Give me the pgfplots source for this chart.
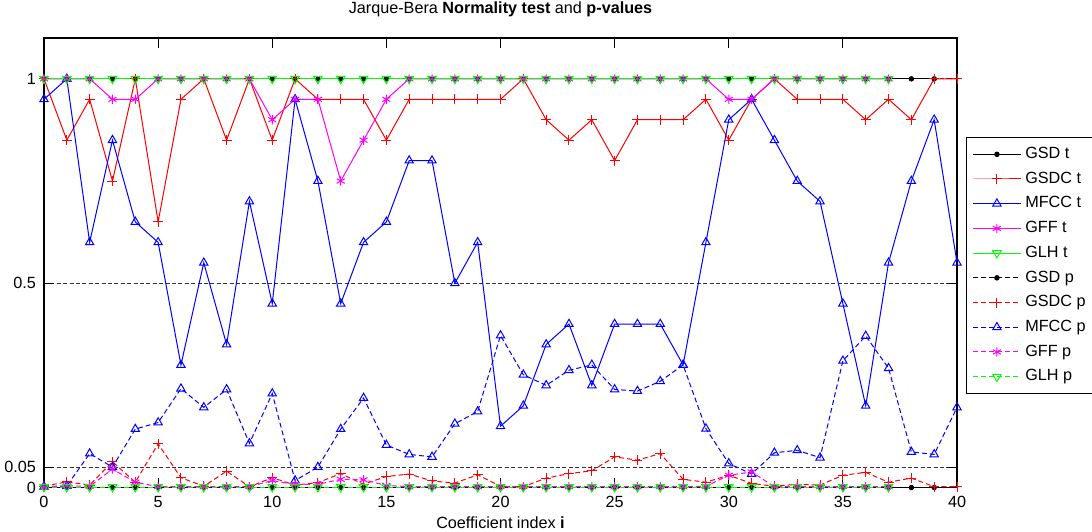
\documentclass[border=0pt]{standalone}
\usepackage{fontspec}
\setmainfont{Liberation Sans}
\usepackage{pgfplots}
\pgfplotsset{compat=1.18}
\definecolor{mred}{rgb}{1,0,0}
\definecolor{mblue}{rgb}{0,0,1}
\definecolor{mmag}{rgb}{1,0,1}
\definecolor{mgreen}{rgb}{0,1,0}
\begin{document}
\begin{tikzpicture}
\begin{axis}[
  scale only axis,
  width=456.5pt, height=224.75pt,
  xmin=0, xmax=40, ymin=0, ymax=1.1,
  xtick={0,5,...,40},
  ytick={0,0.05,0.5,1},
  yticklabels={0,0.05,0.5,1},
  tick align=inside,
  major tick length=5pt,
  tick style={black, line width=0.5pt},
  axis line style={black, line width=0.6pt},
  ymajorgrids,
  grid style={black!80, line width=0.45pt, dash pattern=on 2pt off 1.2pt},
  font=\fontsize{8.1}{10}\selectfont,
  /pgf/number format/assume math mode=true,
  title={Jarque-Bera \textbf{Normality test} and \textbf{p-values}},
  title style={at={(0.5,1)}, anchor=base, yshift=6pt, font=\fontsize{8.1}{10}\selectfont},
  xlabel={Coefficient index \textbf{i}},
  xlabel style={at={(0.5,0)}, anchor=base, yshift=-20.5pt},
  xticklabel style={anchor=base, yshift=-9.75pt},
  yticklabel style={anchor=east, xshift=-0.5pt},
  legend cell align=left,
  legend style={at={(1.00986,0.7806)}, anchor=north west, draw=black, line width=0.5pt,
    font=\fontsize{8.1}{10}\selectfont, row sep=1.2pt, inner xsep=3pt, inner ysep=3pt},
  legend image code/.code={\draw[mark repeat=2,mark phase=2] plot coordinates {(0cm,0cm) (0.42cm,0cm) (0.84cm,0cm)};},
  every axis plot/.append style={line width=0.5pt},
]
% ---- t (solid)
\addplot[black, mark=*, mark size=1.1pt] coordinates {
(0,1)(1,1)(2,1)(3,1)(4,1)(5,1)(6,1)(7,1)(8,1)(9,1)(10,1)(11,1)(12,1)(13,1)(14,1)(15,1)(16,1)(17,1)(18,1)(19,1)
(20,1)(21,1)(22,1)(23,1)(24,1)(25,1)(26,1)(27,1)(28,1)(29,1)(30,1)(31,1)(32,1)(33,1)(34,1)(35,1)(36,1)(37,1)(38,1)(39,1)};
\addlegendentry{GSD t}
\addplot[mred, mark=+, mark size=2.5pt] coordinates {
(0,1)(1,0.85)(2,0.95)(3,0.75)(4,1)(5,0.65)(6,0.95)(7,1)(8,0.85)(9,1)(10,0.85)(11,1)(12,0.95)(13,0.95)(14,0.95)(15,0.85)
(16,0.95)(17,0.95)(18,0.95)(19,0.95)(20,0.95)(21,1)(22,0.9)(23,0.85)(24,0.9)(25,0.8)(26,0.9)(27,0.9)(28,0.9)(29,0.95)
(30,0.85)(31,0.95)(32,1)(33,0.95)(34,0.95)(35,0.95)(36,0.9)(37,0.95)(38,0.9)(39,1)(40,1)};
\addlegendentry{GSDC t}
\addplot[mblue, mark=triangle, mark size=2.4pt] coordinates {
(0,0.95)(1,1)(2,0.6)(3,0.85)(4,0.65)(5,0.6)(6,0.3)(7,0.55)(8,0.35)(9,0.7)(10,0.45)(11,0.95)(12,0.75)(13,0.45)(14,0.6)
(15,0.65)(16,0.8)(17,0.8)(18,0.5)(19,0.6)(20,0.15)(21,0.2)(22,0.35)(23,0.4)(24,0.25)(25,0.4)(26,0.4)(27,0.4)(28,0.3)
(29,0.6)(30,0.9)(31,0.95)(32,0.85)(33,0.75)(34,0.7)(35,0.45)(36,0.2)(37,0.55)(38,0.75)(39,0.9)(40,0.55)};
\addlegendentry{MFCC t}
\addplot[mmag, mark=asterisk, mark size=2.3pt] coordinates {
(0,1)(1,1)(2,1)(3,0.95)(4,0.95)(5,1)(6,1)(7,1)(8,1)(9,1)(10,0.9)(11,0.95)(12,0.95)(13,0.75)(14,0.85)(15,0.95)
(16,1)(17,1)(18,1)(19,1)(20,1)(21,1)(22,1)(23,1)(24,1)(25,1)(26,1)(27,1)(28,1)(29,1)(30,0.95)(31,0.95)
(32,1)(33,1)(34,1)(35,1)(36,1)(37,1)};
\addlegendentry{GFF t}
\addplot[mgreen, mark=triangle, mark size=2.4pt, mark options={rotate=180}] coordinates {
(0,1)(1,1)(2,1)(3,1)(4,1)(5,1)(6,1)(7,1)(8,1)(9,1)(10,1)(11,1)(12,1)(13,1)(14,1)(15,1)(16,1)(17,1)(18,1)(19,1)
(20,1)(21,1)(22,1)(23,1)(24,1)(25,1)(26,1)(27,1)(28,1)(29,1)(30,1)(31,1)(32,1)(33,1)(34,1)(35,1)(36,1)(37,1)};
\addlegendentry{GLH t}
% ---- p (dashed)
\addplot[black, dash pattern=on 2.5pt off 1.5pt, mark=*, mark size=1.1pt, mark options={solid}] coordinates {
(0,0)(1,0)(2,0)(3,0)(4,0)(5,0)(6,0)(7,0)(8,0)(9,0)(10,0)(11,0)(12,0)(13,0)(14,0)(15,0)(16,0)(17,0)(18,0)(19,0)
(20,0)(21,0)(22,0)(23,0)(24,0)(25,0)(26,0)(27,0)(28,0)(29,0)(30,0)(31,0)(32,0)(33,0)(34,0)(35,0)(36,0)(37,0)(38,0)(39,0)};
\addlegendentry{GSD p}
\addplot[mred, dash pattern=on 2.5pt off 1.5pt, mark=+, mark size=2.5pt, mark options={solid}] coordinates {
(0,0.003)(1,0.014)(2,0.006)(3,0.063)(4,0.013)(5,0.107)(6,0.024)(7,0.003)(8,0.04)(9,0.002)(10,0.024)(11,0.006)
(12,0.012)(13,0.034)(14,0.008)(15,0.027)(16,0.033)(17,0.016)(18,0.011)(19,0.031)(20,0.003)(21,0.002)(22,0.023)
(23,0.034)(24,0.041)(25,0.075)(26,0.067)(27,0.083)(28,0.02)(29,0.013)(30,0.03)(31,0.01)(32,0.003)(33,0.008)
(34,0.006)(35,0.03)(36,0.037)(37,0.013)(38,0.023)(39,0.002)(40,0.002)};
\addlegendentry{GSDC p}
\addplot[mblue, dash pattern=on 2.5pt off 1.5pt, mark=triangle, mark size=2.4pt, mark options={solid}] coordinates {
(0,0.002)(1,0.004)(2,0.083)(3,0.05)(4,0.143)(5,0.159)(6,0.242)(7,0.196)(8,0.24)(9,0.108)(10,0.23)(11,0.017)
(12,0.05)(13,0.143)(14,0.219)(15,0.104)(16,0.081)(17,0.075)(18,0.156)(19,0.186)(20,0.372)(21,0.276)(22,0.25)
(23,0.287)(24,0.3)(25,0.24)(26,0.236)(27,0.26)(28,0.3)(29,0.144)(30,0.059)(31,0.033)(32,0.085)(33,0.091)
(34,0.073)(35,0.31)(36,0.371)(37,0.292)(38,0.087)(39,0.081)(40,0.196)};
\addlegendentry{MFCC p}
\addplot[mmag, dash pattern=on 2.5pt off 1.5pt, mark=asterisk, mark size=2.3pt, mark options={solid}] coordinates {
(0,0.001)(1,0.004)(2,0.003)(3,0.045)(4,0.013)(5,0.002)(6,0.002)(7,0.002)(8,0.002)(9,0.002)(10,0.017)(11,0.007)
(12,0.008)(13,0.02)(14,0.019)(15,0.005)(16,0.002)(17,0.002)(18,0.002)(19,0.002)(20,0.002)(21,0.002)(22,0.002)
(23,0.002)(24,0.002)(25,0.002)(26,0.002)(27,0.002)(28,0.002)(29,0.003)(30,0.03)(31,0.038)(32,0.002)(33,0.002)
(34,0.002)(35,0.002)(36,0.002)(37,0.002)};
\addlegendentry{GFF p}
\addplot[mgreen, dash pattern=on 2.5pt off 1.5pt, mark=triangle, mark size=2.4pt, mark options={solid, rotate=180}] coordinates {
(0,0.001)(1,0.001)(2,0.001)(3,0.001)(4,0.001)(5,0.001)(6,0.001)(7,0.001)(8,0.001)(9,0.001)(10,0.001)(11,0.001)
(12,0.001)(13,0.001)(14,0.001)(15,0.001)(16,0.001)(17,0.001)(18,0.001)(19,0.001)(20,0.001)(21,0.001)(22,0.001)
(23,0.001)(24,0.001)(25,0.001)(26,0.001)(27,0.001)(28,0.001)(29,0.001)(30,0.001)(31,0.001)(32,0.001)(33,0.001)
(34,0.001)(35,0.001)(36,0.001)(37,0.001)};
\addlegendentry{GLH p}
\end{axis}
\pgfresetboundingbox
\path[use as bounding box] ([xshift=-22pt,yshift=-21.75pt]current axis.south west) rectangle ([xshift=67.5pt,yshift=19pt]current axis.north east);
\end{tikzpicture}
\end{document}
